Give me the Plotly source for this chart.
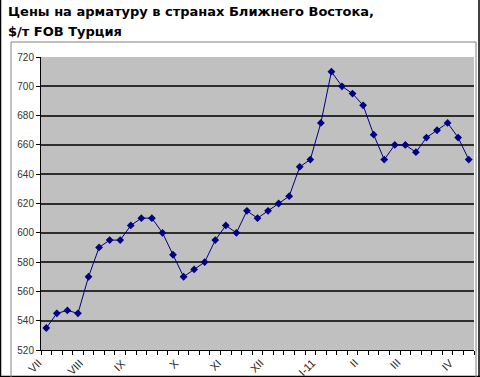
import plotly.graph_objects as go

# Weekly rebar prices, $/t FOB Turkey
prices = [535, 545, 547, 545, 570, 590, 595, 595, 605, 610, 610, 600, 585, 570,
          575, 580, 595, 605, 600, 615, 610, 615, 620, 625, 645, 650, 675, 710,
          700, 695, 687, 667, 650, 660, 660, 655, 665, 670, 675, 665, 650]
weeks = list(range(len(prices)))
month_labels = ["VII", "VIII", "IX", "X", "XI", "XII", "I-11", "II", "III", "IV"]
month_weeks = [0, 4, 8, 13, 17, 21, 26, 30, 34, 39]
y_ticks = [520, 540, 560, 580, 600, 620, 640, 660, 680, 700, 720]

W, H = 480, 377
ml, mr, mt, mb = 41, 6, 57, 27

fig = go.Figure()
fig.add_trace(go.Scatter(
    x=weeks, y=prices, mode="lines+markers",
    line=dict(color="#000080", width=1),
    marker=dict(symbol="diamond", size=6, color="#000080"),
    hoverinfo="skip", showlegend=False))

def px_x(p):
    return (p - ml) / (W - ml - mr)

def px_y(p):
    return 1 - (p - mt) / (H - mt - mb)

shapes = [
    dict(type="line", xref="paper", yref="paper", x0=px_x(0.5), x1=px_x(0.5), y0=px_y(0), y1=px_y(377),
         line=dict(color="#000000", width=1.5)),
    dict(type="line", xref="paper", yref="paper", x0=px_x(479), x1=px_x(479), y0=px_y(0), y1=px_y(377),
         line=dict(color="#000000", width=1.5)),
    dict(type="line", xref="paper", yref="paper", x0=px_x(0), x1=px_x(480), y0=px_y(376.5), y1=px_y(376.5),
         line=dict(color="#000000", width=1.5)),
    dict(type="rect", xref="paper", yref="paper", x0=px_x(11), x1=px_x(476), y0=px_y(42), y1=px_y(390),
         line=dict(color="#808080", width=1)),
]

annotations = [
    dict(text="<b>Цены на арматуру в странах Ближнего Востока,</b>", xref="paper", yref="paper",
         x=px_x(6), y=px_y(12), xanchor="left", yanchor="middle", showarrow=False,
         font=dict(family="DejaVu Sans", size=13, color="#000000")),
    dict(text="<b>$/т FOB Турция</b>", xref="paper", yref="paper",
         x=px_x(6), y=px_y(31), xanchor="left", yanchor="middle", showarrow=False,
         font=dict(family="DejaVu Sans", size=13, color="#000000")),
]
for lab, wk in zip(month_labels, month_weeks):
    annotations.append(dict(
        text=lab, xref="x", yref="paper", x=wk, y=px_y(354),
        xanchor="right", yanchor="top", textangle=-45, showarrow=False,
        font=dict(family="Liberation Sans, Arial, sans-serif", size=11, color="#222222")))

fig.update_layout(
    width=W, height=H,
    margin=dict(l=ml, r=mr, t=mt, b=mb, pad=0),
    paper_bgcolor="#ffffff",
    plot_bgcolor="#c0c0c0",
    shapes=shapes,
    annotations=annotations,
    font=dict(family="Liberation Sans, Arial, sans-serif", size=10, color="#333333"),
    xaxis=dict(
        range=[-0.5, len(prices) - 0.5],
        showticklabels=False, ticks="", showgrid=False, zeroline=False,
        showline=True, linecolor="#000000", linewidth=1,
        minor=dict(tick0=-0.5, dtick=1, ticks="outside", ticklen=4, tickcolor="#000000", showgrid=False),
    ),
    yaxis=dict(
        range=[520, 720], tickmode="array", tickvals=y_ticks,
        ticks="outside", ticklen=4, tickcolor="#000000",
        showgrid=True, gridcolor="#2e2e2e", gridwidth=1.5,
        zeroline=False, showline=True, linecolor="#000000", linewidth=1,
        tickfont=dict(size=10, color="#333333"),
    ),
)

fig.write_html("out.html")
